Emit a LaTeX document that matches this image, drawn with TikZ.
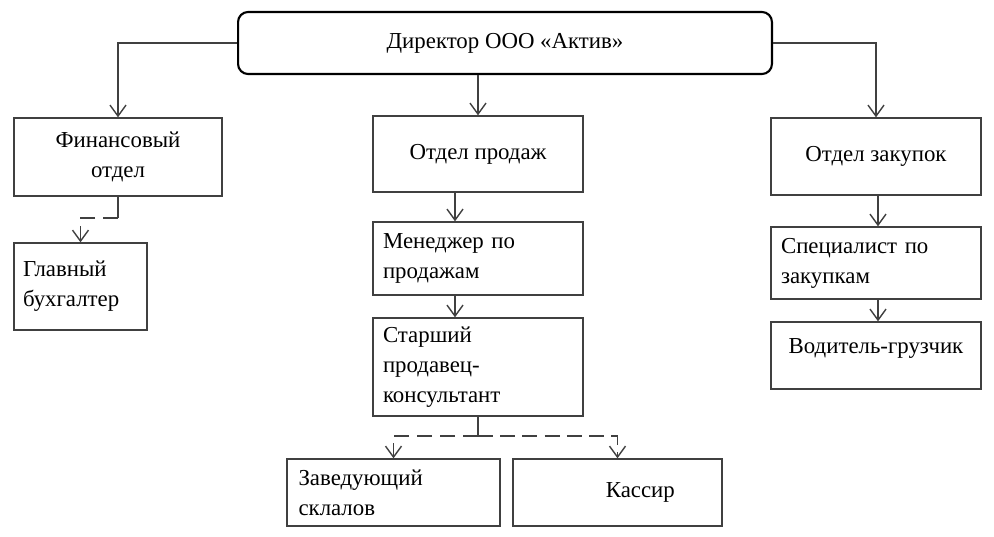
\documentclass[tikz,border=0pt]{standalone}
\usepackage{fontspec}
\setmainfont{Liberation Serif}
\usetikzlibrary{arrows.meta}
\tikzstyle{unit}=[rectangle, draw=black!75, thick, minimum width=4.2cm,
  inner sep=0pt, font=\fontsize{13}{17}\selectfont]
\tikzstyle{lunit}=[unit, align=left, text width=3.8cm]
\tikzstyle{cunit}=[unit, align=center]
\tikzstyle{arrsub}=[-{Straight Barb[length=2.2mm,width=3.2mm]}, thick, draw=black!75]
\tikzstyle{arrdash}=[arrsub, dash pattern=on 3mm off 1.6mm]

\begin{document}
\begin{tikzpicture}[x=0.02cm, y=-0.02cm]
\useasboundingbox (0,0) rectangle (994,537);

\node[cunit, rounded corners=2mm, very thick, draw=black, minimum width=10.68cm,
  minimum height=1.24cm] (director) at (505,43) {Директор ООО «Актив»};

\node[cunit, minimum width=4.16cm, minimum height=1.56cm] (finance) at (118,157)
  {Финансовый\\отдел};
\node[lunit, minimum width=2.66cm, text width=2.3cm, minimum height=1.74cm] (chiefacc)
  at (80.5,286.5) {Главный\\бухгалтер};

\node[cunit, minimum height=1.52cm] (sales) at (478,154) {Отдел продаж};
\node[lunit, minimum height=1.46cm] (manager) at (478,258.5) {Менеджер по\\продажам\\[-2ex]};
\node[lunit, minimum height=1.96cm] (senior) at (478,367)
  {Старший\\продавец-\\консультант\\[-1ex]};
\node[lunit, minimum width=4.26cm, minimum height=1.34cm] (store) at (393.5,492.5)
  {Заведующий\\склалов};
\node[cunit, minimum width=4.18cm, minimum height=1.34cm] (cashier) at (617.5,492.5)
  {\hspace*{2em}Кассир};

\node[cunit, minimum height=1.54cm] (purchase) at (876,156.5) {Отдел закупок};
\node[lunit, minimum height=1.44cm] (special) at (876,263)
  {Специалист по\\закупкам\\[-1ex]};
\node[cunit, minimum height=1.34cm] (driver) at (876,355.5) {Водитель-грузчик\\[-1ex]};

% from the director
\draw[arrsub] (director.west) -| (finance.north);
\draw[arrsub] (director.east) -| (purchase.north);
\draw[arrsub] (director.south -| sales.north) -- (sales.north);

% finance
\coordinate (finknee) at (118,218);
\draw[thick, draw=black!75] (finance.south) -- (finknee);
\draw[arrdash] (finknee) -| (chiefacc.north);

% sales
\draw[arrsub] ([xshift=-0.46cm]sales.south) -- ([xshift=-0.46cm]manager.north);
\draw[arrsub] ([xshift=-0.46cm]manager.south) -- ([xshift=-0.46cm]senior.north);
\coordinate (senknee) at (478,436);
\draw[thick, draw=black!75] (senior.south) -- (senknee);
\draw[arrdash] (senknee) -| (store.north);
\draw[arrdash, dash pattern=on 3mm off 1.45mm] (senknee) -| (cashier.north);

% purchase
\draw[arrsub] ([xshift=0.04cm]purchase.south) -- ([xshift=0.04cm]special.north);
\draw[arrsub] ([xshift=0.04cm]special.south) -- ([xshift=0.04cm]driver.north);

\end{tikzpicture}
\end{document}
